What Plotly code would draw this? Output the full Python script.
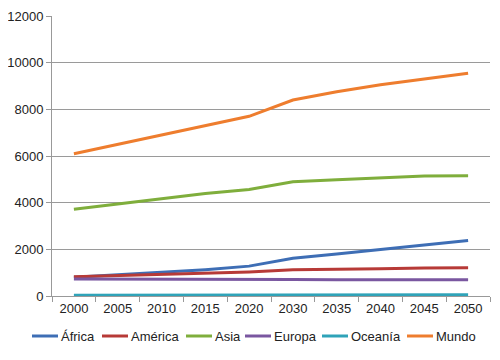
import plotly.graph_objects as go

years = ["2000", "2005", "2010", "2015", "2020", "2030", "2035", "2040", "2045", "2050"]
africa = [800, 900, 1000, 1130, 1280, 1620, 1800, 2000, 2180, 2380]
america = [820, 870, 920, 970, 1030, 1120, 1130, 1170, 1200, 1210]
asia = [3720, 3940, 4150, 4390, 4560, 4900, 4980, 5060, 5140, 5150]
europa = [730, 730, 730, 740, 740, 710, 700, 700, 700, 700]
oceania = [30, 33, 36, 39, 41, 46, 48, 51, 53, 56]
mundo = [6100, 6500, 6900, 7300, 7700, 8400, 8750, 9050, 9300, 9550]

series = [
    ("África", africa, "#3E6EB5"),
    ("América", america, "#B73A37"),
    ("Asia", asia, "#7FAE3C"),
    ("Europa", europa, "#7A57A0"),
    ("Oceanía", oceania, "#2FA3B8"),
    ("Mundo", mundo, "#EE7D2E"),
]

# page body has an 8px margin; work in page pixels and convert
OFF = 8
W, H = 500 - OFF, 360 - OFF
PL, PR, PT, PB = 52, 490, 16, 296  # plot area in page pixels
ML, MT = PL - OFF, PT - OFF
MR, MB = W - (PR - OFF), H - (PB - OFF)
PW, PH = PR - PL, PB - PT

def px_x(px):
    return (px - PL) / PW

def px_y(py):
    return (PB - py) / PH

fig = go.Figure()
for name, vals, col in series:
    fig.add_trace(go.Scatter(x=years, y=vals, name=name, mode="lines",
                             line=dict(color=col, width=3), showlegend=False))

# manual legend (layout only)
legend_line_starts = [32, 102, 186, 245, 322, 407]
legend_line_len = 26
ly = px_y(336)
shapes, annots = [], []
for (name, _, col), x0 in zip(series, legend_line_starts):
    shapes.append(dict(type="line", xref="paper", yref="paper",
                       x0=px_x(x0), x1=px_x(x0 + legend_line_len), y0=ly, y1=ly,
                       line=dict(color=col, width=3)))
    annots.append(dict(xref="paper", yref="paper", x=px_x(x0 + legend_line_len + 1),
                       y=ly, text=name, showarrow=False, xanchor="left",
                       yanchor="middle", font=dict(size=13, color="#222")))

fig.update_layout(
    width=W, height=H,
    margin=dict(l=ML, r=MR, t=MT, b=MB, pad=0),
    paper_bgcolor="white", plot_bgcolor="white",
    font=dict(family="Liberation Sans, Arial, sans-serif", size=13, color="#222"),
    showlegend=False,
    shapes=shapes, annotations=annots,
)
fig.update_xaxes(type="category", range=[-0.5, 9.5], showgrid=False,
                 showline=True, linecolor="#999", linewidth=1,
                 ticks="outside", tickcolor="#999", ticklen=5,
                 tickson="boundaries", automargin=False)
fig.update_yaxes(range=[0, 12000], dtick=2000, tickformat="d", showgrid=True,
                 gridcolor="#9a9a9a", gridwidth=1, showline=True, linecolor="#999",
                 linewidth=1, ticks="outside", tickcolor="#999", ticklen=5,
                 zeroline=False, automargin=False)

fig.write_html("out.html")
